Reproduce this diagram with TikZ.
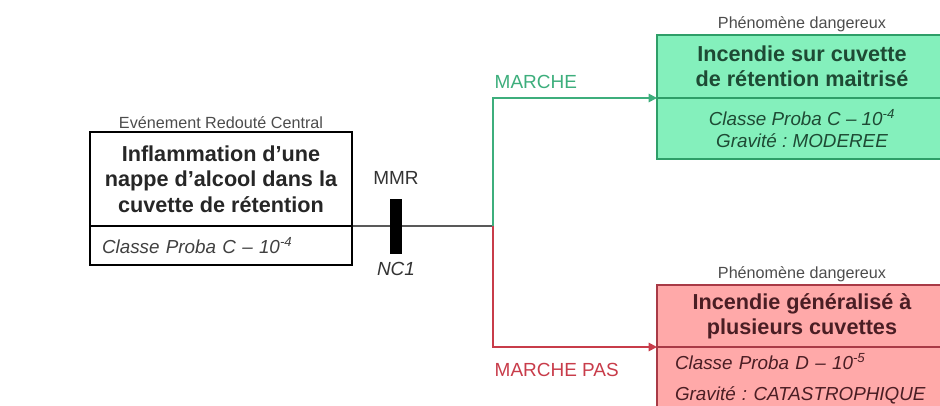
\documentclass[tikz,border=0pt]{standalone}
\usepackage{fontspec}
\setmainfont{Liberation Sans}
\usetikzlibrary{arrows.meta,positioning}
\definecolor{vertfond}{HTML}{84F0BC}
\definecolor{vertbord}{HTML}{2E9E68}
\definecolor{vertlien}{HTML}{3DAE7C}
\definecolor{verttexte}{HTML}{1E4A34}
\definecolor{rougefond}{HTML}{FFA9A9}
\definecolor{rougebord}{HTML}{A83A46}
\definecolor{rougelien}{HTML}{C83C4A}
\definecolor{rougetexte}{HTML}{4A1E24}

\begin{document}
\frenchspacing
\begin{tikzpicture}[node distance=0pt, every node/.style={font=\fontsize{12}{14}\selectfont}]
\tikzset{box/.style={draw, line width=0.9pt, outer sep=0pt, align=center, font=\bfseries\fontsize{15.4}{18}\selectfont}}
\tikzset{proba/.style={draw, line width=0.9pt, outer sep=0pt, font=\itshape\fontsize{13.4}{16}\selectfont}}
\tikzset{titre/.style={inner sep=1pt, text=black!70, font=\fontsize{11.5}{13}\selectfont}}
\tikzset{lien/.style={line width=1.3pt, -{Triangle[length=6pt,width=6pt]}}}
\tikzset{choix/.style={inner sep=1pt, font=\fontsize{13.5}{16}\selectfont}}
\useasboundingbox (0,0) rectangle (23.5,10.125);
% evenement redoute central
\node[box, minimum width=6.55cm, minimum height=2.35cm, text=black!85] (erc) at (5.525,5.65) {Inflammation d'une\\nappe d'alcool dans la\\cuvette de rétention};
\node[proba, below=of erc, minimum height=0.975cm, inner xsep=0.3cm, text width=5.95cm, align=left, text=black!75] (ercp) {Classe Proba C -- 10\textsuperscript{-4}};
\node[titre, above=1pt of erc] (ercl) {Evénement Redouté Central};
% barriere
\node[fill=black, inner sep=0pt, minimum width=0.3cm, minimum height=1.375cm] (mmr) at (9.9,4.475) {};
\node[choix, above=0.3cm of mmr, text=black!80] (mmrl) {MMR};
\node[choix, below=0.17cm of mmr, text=black!80, font=\itshape\fontsize{13.5}{16}\selectfont] (nc) {NC1};
\coordinate (branche) at (12.325,4.475);
\coordinate (coinh) at (12.325,7.675);
\coordinate (coinb) at (12.325,1.45);
% phenomenes dangereux
\node[box, fill=vertfond, draw=vertbord, text=verttexte, minimum width=7.25cm, minimum height=1.575cm] (pdh) at (20.05,8.4625) {Incendie sur cuvette\\de rétention maitrisé};
\node[proba, fill=vertfond, draw=vertbord, text=verttexte, below=of pdh, minimum width=7.25cm, minimum height=1.525cm, align=center] (pdhp) {Classe Proba C -- 10\textsuperscript{-4}\\Gravité : MODEREE};
\draw[vertbord, line width=1.6pt] (pdh.south west) -- (pdh.south east);
\node[titre, above=1pt of pdh] (pdhl) {Phénomène dangereux};
\node[box, fill=rougefond, draw=rougebord, text=rougetexte, minimum width=7.25cm, minimum height=1.55cm] (pdb) at (20.05,2.225) {Incendie généralisé à\\plusieurs cuvettes};
\node[proba, fill=rougefond, draw=rougebord, text=rougetexte, below=of pdb.south west, anchor=north west, minimum height=1.6cm, inner xsep=0.45cm, text width=6.8cm, align=left] (pdbp) {Classe Proba D -- 10\textsuperscript{-5}\\[6pt]Gravité : CATASTROPHIQUE};
\node[titre, above=1pt of pdb] (pdbl) {Phénomène dangereux};
% liens
\draw[line width=0.8pt] (erc.south east) -- (branche);
\draw[lien, vertlien] (branche) -- (coinh) -- (pdh.south west);
\draw[lien, rougelien] (branche) -- (coinb) -- (pdb.south west);
\node[choix, text=vertlien, above right=0.2cm and 0pt of coinh] (marche) {MARCHE};
\node[choix, text=rougelien, below right=0.36cm and 0pt of coinb] (marchepas) {MARCHE PAS};
\end{tikzpicture}
\end{document}
